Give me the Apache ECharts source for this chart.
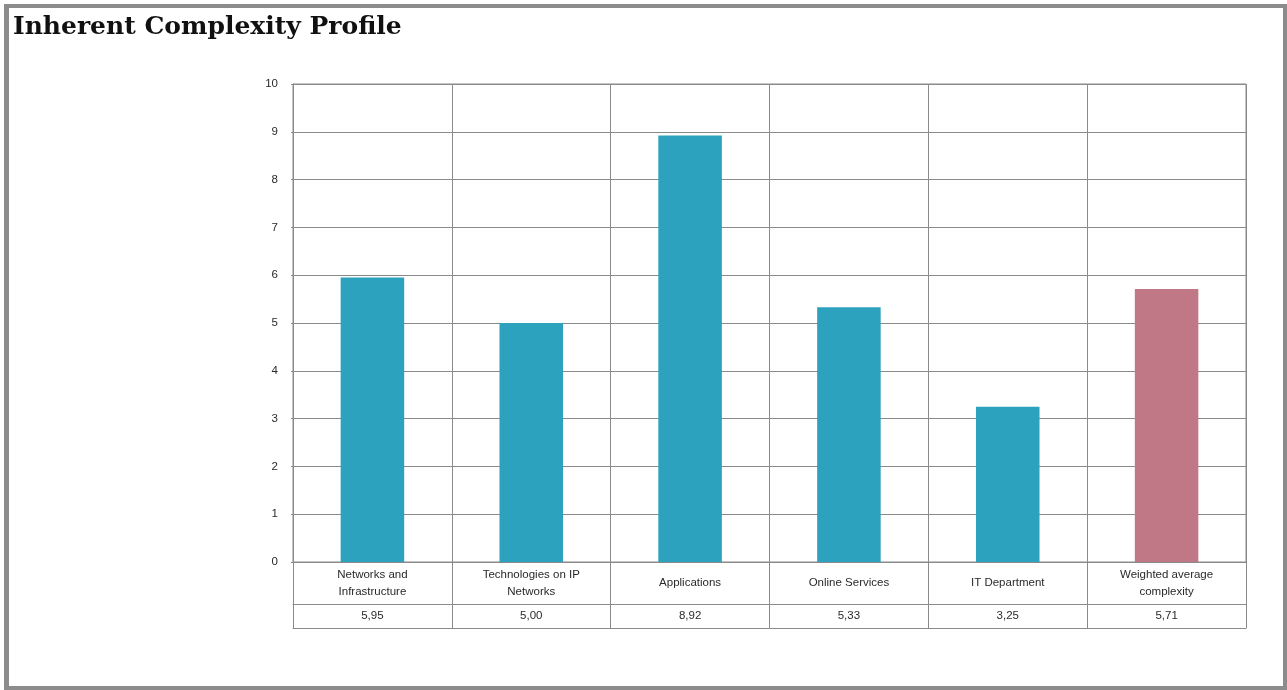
<!DOCTYPE html>
<html>
<head>
<meta charset="utf-8">
<script src="https://cdn.jsdelivr.net/npm/echarts@6/dist/echarts.min.js"></script>
<style>
  html, body { margin: 0; padding: 0; background: #fff; }
  #chart { width: 1287px; height: 690px; }
  #frame { position: absolute; left: 4px; top: 4px; width: 1283px; height: 686px;
           box-sizing: border-box; border: 4px solid #8c8c8c; border-left-width: 5px;
           pointer-events: none; }
</style>
</head>
<body>
<div id="chart"></div>
<div id="frame"></div>
<script>
// Complexity scores per area
const categories = [
  'Networks and\nInfrastructure',
  'Technologies on IP\nNetworks',
  'Applications',
  'Online Services',
  'IT Department',
  'Weighted average\ncomplexity'
];
const scores = [5.95, 5.00, 8.92, 5.33, 3.25, 5.71];
const yTicks = [0, 10, 1];   // min, max, interval

const gridColor = '#8a8a8a';
const barBlue = '#2ca2bf';
const barRose = '#c07886';
const labelFont = { fontFamily: 'Liberation Sans', fontSize: 11.5, color: '#2a2a2a' };

const chart = echarts.init(document.getElementById('chart'));

const fmt = v => v.toFixed(2).replace('.', ',');

chart.setOption({
  animation: false,
  title: {
    text: 'Inherent Complexity Profile',
    left: 8, top: 10,
    textStyle: { fontFamily: 'DejaVu Serif', fontWeight: 'bold', fontSize: 25, color: '#111' }
  },
  grid: {
    left: 293, right: 41, top: 84, bottom: 128,
    show: true, borderColor: gridColor, borderWidth: 1
  },
  xAxis: [
    {
      type: 'category',
      data: categories,
      position: 'bottom',
      axisLine: { show: true, lineStyle: { color: gridColor } },
      axisTick: { show: true, interval: 0, length: 66, lineStyle: { color: gridColor } },
      splitLine: { show: true, interval: 0, lineStyle: { color: gridColor } },
      axisLabel: Object.assign({ interval: 0, margin: 21, verticalAlign: 'middle', lineHeight: 17 }, labelFont)
    },
    {
      type: 'category',
      data: scores.map(fmt),
      position: 'bottom',
      offset: 42,
      axisLine: { show: true, lineStyle: { color: gridColor } },
      axisTick: { show: false },
      axisLabel: Object.assign({ interval: 0, margin: 12, verticalAlign: 'middle' }, labelFont)
    },
    {
      type: 'category',
      data: categories,
      position: 'bottom',
      offset: 66,
      axisLine: { show: true, lineStyle: { color: gridColor } },
      axisTick: { show: false },
      axisLabel: { show: false }
    }
  ],
  yAxis: {
    type: 'value',
    min: yTicks[0], max: yTicks[1], interval: yTicks[2],
    axisLine: { show: true, lineStyle: { color: gridColor } },
    axisTick: { show: true, length: 2, lineStyle: { color: gridColor } },
    splitLine: { show: true, lineStyle: { color: gridColor } },
    axisLabel: Object.assign({ margin: 15 }, labelFont)
  },
  series: [{
    type: 'bar',
    xAxisIndex: 0,
    barWidth: '40%',
    data: scores.map((v, i) => ({
      value: v,
      itemStyle: { color: i === scores.length - 1 ? barRose : barBlue }
    }))
  }]
});
</script>
</body>
</html>
